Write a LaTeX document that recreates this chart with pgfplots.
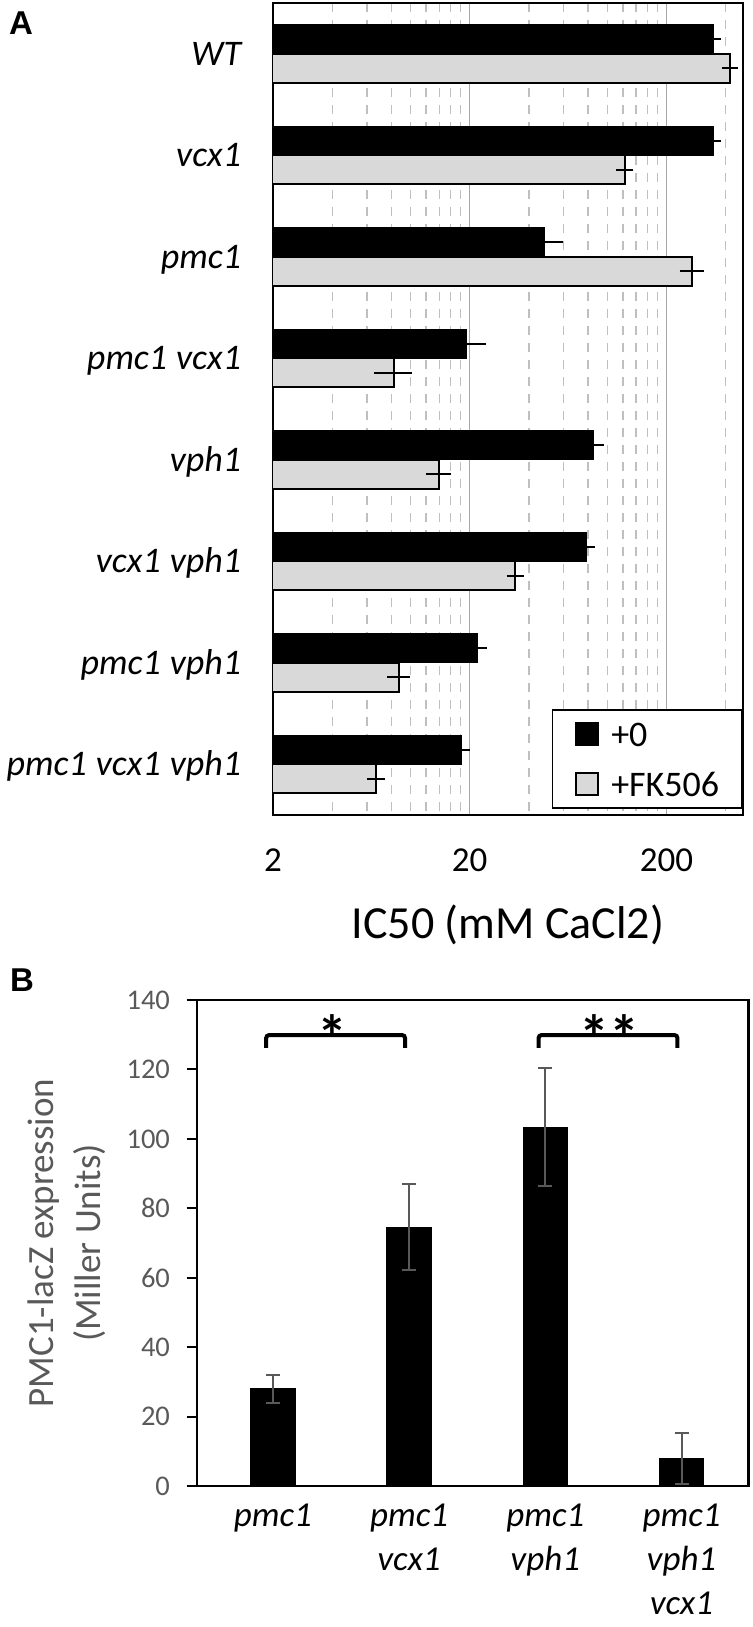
\documentclass[border=0pt]{standalone}
\usepackage{pgfplots}
\pgfplotsset{compat=1.18}
\usepackage{fontspec}
\setmainfont{Carlito}
\newfontfamily\labelfont{Liberation Sans}
\definecolor{lgray}{HTML}{D9D9D9}
\definecolor{dgray}{HTML}{595959}
\definecolor{gridA}{HTML}{A6A6A6}
\definecolor{gridB}{HTML}{BFBFBF}
\newcommand\fs[2]{\fontsize{#1}{#2}\selectfont}
\newcommand\wsp{\hspace{0.25em}}
\begin{document}
\begin{tikzpicture}
\useasboundingbox (0,0) rectangle (376pt,-813.5pt);
% ---------------- Panel A ----------------
\begin{axis}[
  at={(136.5pt,-407.5pt)}, anchor=south west,
  scale only axis, width=235pt, height=406pt,
  xbar=0pt, bar width=14.5pt,
  xmode=log, xmin=2, xmax=490,
  ymin=-0.5, ymax=7.5, y dir=reverse,
  ytick={0,...,7},
  yticklabels={WT,vcx1,pmc1,pmc1\wsp vcx1,vph1,vcx1\wsp vph1,pmc1\wsp vph1,pmc1\wsp vcx1\wsp vph1},
  yticklabel style={anchor=east, inner sep=0pt, xshift=-11.5pt, text width=125pt, align=right,
     text height=11.4pt, text depth=0pt, font=\itshape\fs{18}{18}},
  xtick={2,20,200}, xticklabels={2,20,200},
  minor xtick={4,6,8,10,12,14,16,18,40,60,80,100,120,140,160,180,400},
  xticklabel style={anchor=base, inner sep=0pt, yshift=-28pt, font=\fs{17.5}{17.5}},
  xmajorgrids, xminorgrids,
  major grid style={gridA, line width=0.6pt},
  minor grid style={gridB, line width=0.7pt, dash pattern=on 4.5pt off 4pt},
  tick style={draw=none},
  axis line style={line width=1pt},
  xlabel={IC50 (mM CaCl2)},
  xlabel style={at={(axis description cs:0.5,-0.1515)}, anchor=base, inner sep=0pt, font=\fs{23}{23}},
  legend style={at={(1,0)}, anchor=south east, yshift=3pt, draw=black, line width=0.8pt,
    font=\fs{18}{18}, inner xsep=11.5pt, inner ysep=6pt, row sep=13pt,
    nodes={inner sep=0pt, text height=12pt, text depth=0pt}},
  legend cell align=left,
  reverse legend,
  legend image code/.code={\draw[#1, line width=0.8pt] (0pt,-5.5pt) rectangle (11pt,5.5pt); \path (17pt,0pt);},
]
\addplot[fill=lgray, draw=black, line width=1pt,
  error bars/.cd, x dir=both, x explicit,
  error bar style={black, line width=1pt},
  error mark options={black, line width=1pt, mark size=3.6pt}]
coordinates {
 (420,0) +- (3,0)
 (123,1) +- (2,0)
 (269,2) +- (15,0)
 (8.2,3) +- (1.1,0)
 (13.9,4) +- (0.8,0)
 (34.1,5) +- (0.6,0)
 (8.7,6) +- (0.4,0)
 (6.7,7) +- (0.15,0)
};
\addplot[fill=black, draw=black,
  error bars/.cd, x dir=both, x explicit,
  error bar style={black, line width=1pt},
  error mark options={black, line width=1pt, mark size=3.6pt}]
coordinates {
 (345,0) +- (3,0)
 (347,1) +- (3,0)
 (48,2) +- (7,0)
 (19.2,3) +- (3,0)
 (85,4) +- (3,0)
 (78.3,5) +- (1.5,0)
 (21.9,6) +- (0.5,0)
 (18.1,7) +- (0.3,0)
};
\legend{+FK506,+0}
\end{axis}
% ---------------- Panel B ----------------
\begin{axis}[
  at={(98.35pt,-743pt)}, anchor=south west,
  scale only axis, width=275.8pt, height=243pt,
  xmin=-0.56, xmax=3.49, ymin=0, ymax=140,
  xtick={0,1,2,3},
  xticklabels={pmc1, pmc1\\vcx1, pmc1\\vph1, pmc1\\vph1\\vcx1},
  xticklabel style={align=center, anchor=north, inner sep=0pt, yshift=-4pt, font=\itshape\fs{17.5}{22}},
  x tick style={draw=none},
  ytick={0,20,...,140},
  ytick pos=left,
  y tick style={draw=black, line width=1pt},
  tick align=outside, major tick length=5pt,
  yticklabel style={anchor=east, inner sep=0pt, xshift=-8.2pt, text=dgray, font=\fs{14.25}{14.25}},
  /pgf/number format/assume math mode=true,
  axis line style={line width=1.2pt},
  ylabel={PMC1-lacZ expression\\(Miller Units)},
  ylabel style={at={(axis description cs:-0.164,0.5)}, anchor=south, align=center, inner sep=0pt, text=dgray, font=\fs{18.5}{23.5}},
]
\addplot[ybar, bar width=22.3pt, fill=black, draw=black,
  error bars/.cd, y dir=both, y explicit,
  error bar style={dgray, line width=1pt},
  error mark options={dgray, line width=1pt, mark size=3.5pt, rotate=90}]
coordinates {
 (0,28.0) +- (0,4)
 (1,74.6) +- (0,12.5)
 (2,103.3) +- (0,17)
 (3,7.9) +- (0,7.4)
};
% significance brackets
\addplot[black, line width=2pt, rounded corners=1.5pt, forget plot]
  coordinates {(-0.05,126.2) (-0.05,129.9) (0.97,129.9) (0.97,126.2)};
\addplot[black, line width=2pt, rounded corners=1.5pt, forget plot]
  coordinates {(1.95,126.2) (1.95,129.9) (2.97,129.9) (2.97,126.2)};
\node[font=\bfseries\fs{30}{30}, inner sep=0pt] at (axis cs:0.44,129.5) {*};
\node[font=\bfseries\fs{30}{30}, inner sep=0pt] at (axis cs:2.47,129.5) {**};
\end{axis}
\node[font=\labelfont\bfseries\fs{16.5}{16.5}, inner sep=0pt] at (10.5pt,-11.5pt) {A};
\node[font=\labelfont\bfseries\fs{16.5}{16.5}, inner sep=0pt] at (11pt,-490pt) {B};
\end{tikzpicture}
\end{document}
